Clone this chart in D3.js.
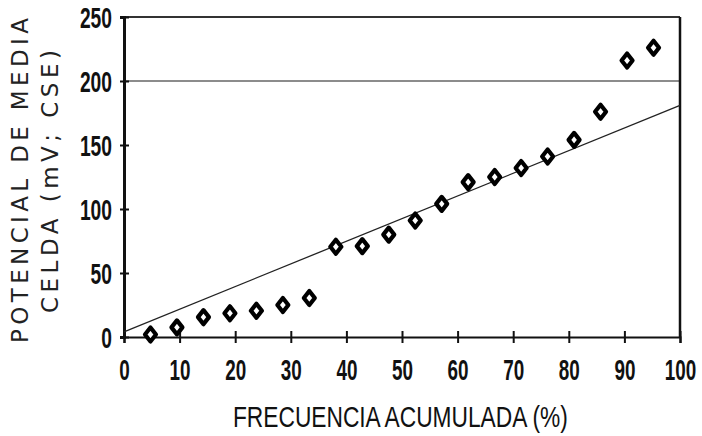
<!DOCTYPE html>
<html>
<head>
<meta charset="utf-8">
<script src="https://cdn.jsdelivr.net/npm/d3@7"></script>
<style>
  html, body { margin: 0; padding: 0; background: #fff; }
  svg { display: block; }
  .tick-label { font-family: "Liberation Sans Narrow", "Liberation Sans", Arial, sans-serif; font-weight: bold; fill: #111; }
</style>
</head>
<body>
<svg id="chart" width="702" height="436"></svg>
<script>
// Frecuencia acumulada (%) de cada lectura y su potencial de media celda (mV; CSE)
const frecuencia = [4.76, 9.52, 14.29, 19.05, 23.81, 28.57, 33.33, 38.10, 42.86, 47.62,
                    52.38, 57.14, 61.90, 66.67, 71.43, 76.19, 80.95, 85.71, 90.48, 95.24];
const potencial  = [2, 7.5, 15.5, 18.5, 20.5, 25, 30.5, 70.5, 71, 80,
                    91, 104, 121, 125, 132, 141, 154, 176, 216, 226];
// Recta de ajuste: extremos en x = 0 y x = 100
const ajusteX = [0, 100];
const ajusteY = [4, 181];
const xTicks = [0, 10, 20, 30, 40, 50, 60, 70, 80, 90, 100];
const yTicks = [0, 50, 100, 150, 200, 250];
const tituloX = "FRECUENCIA ACUMULADA (%)";
const tituloY = ["POTENCIAL DE MEDIA", "CELDA (mV; CSE)"];

const svg = d3.select("#chart");
const x = d3.scaleLinear().domain([0, 100]).range([124, 680]);
const y = d3.scaleLinear().domain([0, 250]).range([337, 17]);

// Comprime horizontalmente un texto hasta el ancho deseado, anclado en ax
function condensar(sel, ancho, ax) {
  sel.each(function(d) {
    const w = this.getComputedTextLength();
    const target = typeof ancho === "function" ? ancho(d) : ancho;
    const s = target / w;
    d3.select(this).attr("transform", `translate(${ax},0) scale(${s},1) translate(${-ax},0)`);
  });
}

// Líneas de referencia: 250 (borde superior) y 200
svg.append("line")
  .attr("x1", x(0)).attr("x2", x(100))
  .attr("y1", y(250)).attr("y2", y(250))
  .attr("stroke", "#333").attr("stroke-width", 1.8);
svg.append("line")
  .attr("x1", x(0)).attr("x2", x(100))
  .attr("y1", y(200)).attr("y2", y(200))
  .attr("stroke", "#666").attr("stroke-width", 1.6);

// Borde derecho
svg.append("line")
  .attr("x1", x(100)).attr("x2", x(100))
  .attr("y1", y(250)).attr("y2", y(0))
  .attr("stroke", "#111").attr("stroke-width", 2.5);

// Eje X
const gx = svg.append("g")
  .attr("transform", `translate(0,${y(0)})`)
  .call(d3.axisBottom(x).tickValues(xTicks).tickSizeOuter(0).tickSize(6).tickFormat(d3.format("d")));
gx.select(".domain").attr("stroke", "#111").attr("stroke-width", 2.2);
gx.selectAll(".tick line").attr("y1", -6).attr("y2", 6).attr("stroke", "#111").attr("stroke-width", 2);
gx.selectAll(".tick text")
  .attr("class", "tick-label")
  .attr("y", 43).attr("dy", 0)
  .attr("font-size", 29)
  .attr("text-anchor", "middle")
  .call(condensar, d => String(d).length * 10.5, 0);

// Eje Y
const gy = svg.append("g")
  .attr("transform", `translate(${x(0)},0)`)
  .call(d3.axisLeft(y).tickValues(yTicks).tickSizeOuter(0).tickSize(4).tickFormat(d3.format("d")));
gy.select(".domain").attr("stroke", "#111").attr("stroke-width", 3);
gy.selectAll(".tick line").attr("x1", -4).attr("x2", 5).attr("stroke", "#111").attr("stroke-width", 2);
gy.selectAll(".tick text")
  .attr("class", "tick-label")
  .attr("x", -12).attr("dy", "0.36em")
  .attr("font-size", 29)
  .attr("text-anchor", "end")
  .call(condensar, d => String(d).length * 10.7, -12);
svg.selectAll(".tick text").attr("fill", "#111");

// Recta de ajuste
svg.append("path")
  .datum(ajusteX.map((d, i) => [d, ajusteY[i]]))
  .attr("fill", "none")
  .attr("stroke", "#222")
  .attr("stroke-width", 1.3)
  .attr("d", d3.line().x(d => x(d[0])).y(d => y(d[1])));

// Puntos (rombos abiertos de trazo grueso)
const rombo = "M0,-7L5.5,0L0,7L-5.5,0Z";
svg.append("g").selectAll("path")
  .data(frecuencia.map((d, i) => [d, potencial[i]]))
  .join("path")
  .attr("transform", d => `translate(${x(d[0])},${y(d[1])})`)
  .attr("d", rombo)
  .attr("fill", "#fff")
  .attr("stroke", "#000")
  .attr("stroke-width", 4.2)
  .attr("stroke-linejoin", "round");

// Título del eje X
svg.append("text")
  .attr("x", 233).attr("y", 427)
  .attr("font-family", "'Liberation Sans Narrow', 'Liberation Sans', Arial, sans-serif")
  .attr("font-size", 29)
  .attr("fill", "#111")
  .text(tituloX)
  .call(condensar, 335, 233);

// Título del eje Y (dos líneas, girado)
const yTitleBase = [28, 58];
const yTitleStart = [343, 313];
const yTitleLen = [325, 263];
tituloY.forEach((t, i) => {
  svg.append("text")
    .attr("transform", `translate(${yTitleBase[i]},${yTitleStart[i]}) rotate(-90)`)
    .attr("font-family", "'DejaVu Sans', Verdana, sans-serif")
    .attr("font-size", 23)
    .attr("fill", "#222")
    .attr("textLength", yTitleLen[i])
    .attr("lengthAdjust", "spacing")
    .text(t);
});
</script>
</body>
</html>
